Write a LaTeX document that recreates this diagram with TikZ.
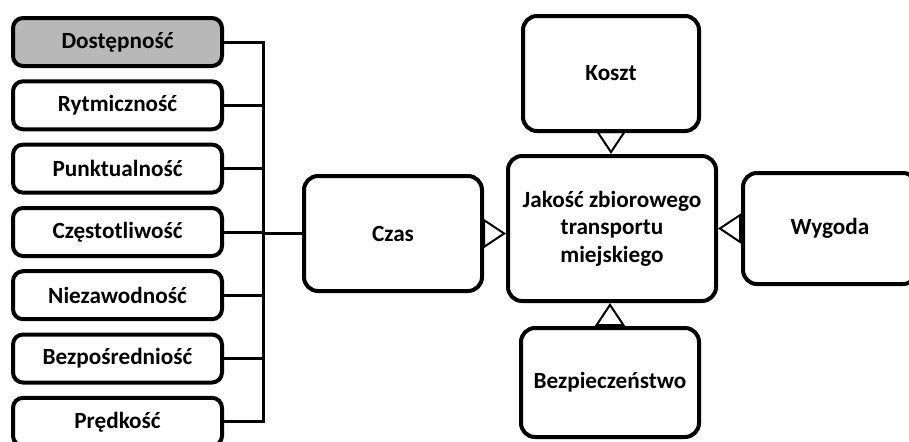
\documentclass[tikz,border=0pt]{standalone}
\usepackage{fontspec}
\setmainfont{Carlito}
\usetikzlibrary{arrows.meta}
\begin{document}
\begin{tikzpicture}[x=0.5pt,y=-0.5pt,
  box/.style={draw, line width=2pt, rounded corners=7pt, fill=white,
    font=\bfseries\fontsize{11.6}{13.8}\selectfont, align=center, inner sep=0pt},
  leftbox/.style={box, rounded corners=5pt, minimum width=104.5pt, minimum height=24pt},
  conn/.style={line width=1.5pt},
  tri/.style={line width=1pt, -{Triangle[open, length=11.5pt, width=15pt, line width=1pt]}}]
\clip (0,0) rectangle (909,441);
\useasboundingbox (0,0) rectangle (909,441);
% left column
\node[leftbox, fill=black!28] (dost) at (117.5,42) {Dostępność};
\node[leftbox] (ryt)  at (117.5,105.3) {Rytmiczność};
\node[leftbox] (punk) at (117.5,168.6) {Punktualność};
\node[leftbox] (czes) at (117.5,232) {Częstotliwość};
\node[leftbox] (niez) at (117.5,295.2) {Niezawodność};
\node[leftbox] (bezp) at (117.5,358.5) {Bezpośredniość};
\node[leftbox] (pred) at (117.5,421.8) {Prędkość};
\coordinate (bus) at (263,0);
% main boxes
\node[box, minimum width=89pt, minimum height=57.5pt] (czas) at (393,233.5) {Czas};
\node[box, minimum width=104pt, minimum height=72.5pt] (jak) at (612,228.5) {Jakość zbiorowego\\transportu\\miejskiego};
\node[box, minimum width=88pt, minimum height=57.5pt] (koszt) at (611,73.5) {Koszt};
\node[box, minimum width=89pt, minimum height=54.5pt] (bez) at (610,382.5) {Bezpieczeństwo};
\node[box, minimum width=87pt, minimum height=55.5pt] (wyg) at (830,228.5) {Wygoda};
% bracket
\draw[conn] (dost.east) -| (bus |- pred.east) -- (pred.east);
\draw[conn] (ryt.east) -- (ryt.east -| bus);
\draw[conn] (punk.east) -- (punk.east -| bus);
\draw[conn] (czes.east) -- (czes.east -| bus);
\draw[conn] (niez.east) -- (niez.east -| bus);
\draw[conn] (bezp.east) -- (bezp.east -| bus);
\draw[conn] (czas.west) -- (czas.west -| bus);
% arrows
\draw[tri] (czas.east) -- (czas.east -| jak.west);
\draw[tri] (koszt.south) -- (koszt.south |- jak.north);
\draw[tri] (bez.north) -- (bez.north |- jak.south);
\draw[tri] (wyg.west) -- (wyg.west -| jak.east);
\end{tikzpicture}
\end{document}
